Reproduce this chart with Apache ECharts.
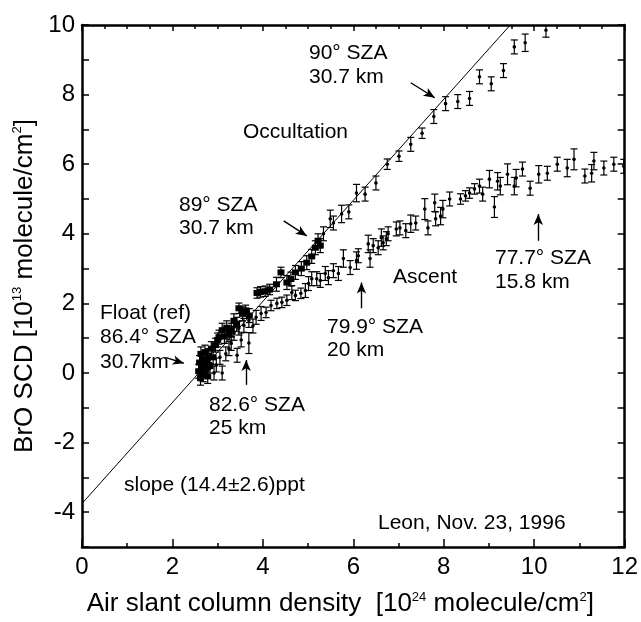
<!DOCTYPE html>
<html>
<head>
<meta charset="utf-8">
<script src="https://cdn.jsdelivr.net/npm/echarts@6/dist/echarts.min.js"></script>
<style>
  html, body { margin: 0; padding: 0; background: #fff; }
  #chart { width: 641px; height: 622px; }
</style>
</head>
<body>
<div id="chart"></div>
<script>
// occultation branch (float + sunset), x = air SCD [1e24], y = BrO SCD [1e13]
var occX = [2.58, 2.6, 2.62, 2.63, 2.65, 2.67, 2.68, 2.7, 2.72, 2.74, 2.76, 2.78, 2.8, 2.83, 2.86, 2.9, 2.95, 3.0, 3.03, 3.1,
  3.15, 3.2, 3.25, 3.3, 3.36, 3.42, 3.47, 3.55, 3.62, 3.7, 3.87, 3.95, 4.05, 4.15, 4.3, 4.4, 4.53, 4.62, 4.72, 4.85,
  4.97, 5.08, 5.16, 5.22, 5.27, 5.34, 5.49, 5.56, 5.74, 5.9, 6.07, 6.26, 6.5, 6.75, 7.01, 7.27, 7.52, 7.78, 8.04, 8.31,
  8.57, 8.79, 9.05, 9.32, 9.56, 9.8, 10.26];
var occY = [0.05, 0.3, -0.15, 0.55, 0.15, 0.4, -0.05, 0.25, 0.6, 0.1, 0.35, -0.1, 0.5, 0.2, 0.7, 0.45, 0.8, 0.95, 1.03, 1.23,
  1.05, 1.3, 1.15, 1.23, 1.5, 1.4, 1.86, 1.7, 1.8, 1.65, 2.3, 2.33, 2.35, 2.4, 2.55, 2.89, 2.6, 2.7, 2.89, 3.0,
  3.17, 3.35, 3.6, 3.8, 3.66, 4.0, 4.43, 4.31, 4.57, 4.63, 5.17, 5.14, 5.46, 6.0, 6.23, 6.57, 6.89, 7.37, 7.74, 7.8,
  7.89, 8.51, 8.31, 8.69, 9.37, 9.49, 9.85];
var occErr = [0.2, 0.2, 0.2, 0.2, 0.2, 0.2, 0.2, 0.2, 0.2, 0.2, 0.2, 0.2, 0.2, 0.2, 0.2, 0.2, 0.2, 0.2, 0.2, 0.2,
  0.2, 0.2, 0.2, 0.2, 0.2, 0.2, 0.15, 0.2, 0.15, 0.2, 0.15, 0.15, 0.15, 0.15, 0.2, 0.15, 0.2, 0.2, 0.2, 0.2,
  0.2, 0.2, 0.2, 0.2, 0.2, 0.2, 0.25, 0.2, 0.25, 0.2, 0.25, 0.2, 0.2, 0.15, 0.15, 0.2, 0.15, 0.2, 0.2, 0.2,
  0.2, 0.2, 0.2, 0.2, 0.2, 0.25, 0.2];

// balloon ascent branch
var ascX = [2.92, 2.97, 3.05, 3.1, 3.18, 3.25, 3.3, 3.36, 3.43, 3.47, 3.52, 3.58, 3.69, 3.69, 3.78, 3.85, 3.96, 4.07, 4.18, 4.31,
  4.42, 4.53, 4.64, 4.72, 4.84, 4.94, 5.01, 5.08, 5.19, 5.27, 5.38, 5.45, 5.56, 5.67, 5.78, 5.93, 6.07, 6.11, 6.33, 6.37,
  6.44, 6.55, 6.62, 6.66, 6.73, 6.77, 6.95, 7.03, 7.16, 7.27, 7.38, 7.58, 7.65, 7.8, 7.82, 7.93, 7.98, 8.13, 8.37, 8.48,
  8.57, 8.68, 8.79, 8.86, 9.01, 9.12, 9.19, 9.25, 9.41, 9.56, 9.6, 9.74, 9.91, 10.1, 10.29, 10.51, 10.73, 10.88, 11.12, 11.27,
  11.32, 11.54, 11.76, 11.98];
var ascY = [0.0, 0.23, 0.45, 0.0, 0.55, 0.7, 0.85, 1.14, 0.51, 1.29, 0.95, 1.37, 0.86, 1.51, 1.35, 1.6, 1.71, 1.74, 1.94, 2.0,
  2.03, 2.09, 2.31, 2.23, 2.29, 2.37, 2.57, 2.71, 2.71, 2.66, 2.86, 2.74, 2.94, 2.86, 3.29, 3.03, 3.23, 3.37, 3.71, 3.29,
  3.66, 3.6, 3.89, 3.74, 3.86, 4.0, 4.14, 4.17, 4.09, 4.29, 4.31, 4.71, 4.17, 4.89, 4.43, 4.51, 4.71, 5.0, 5.0, 5.09,
  5.17, 5.29, 5.37, 5.14, 5.57, 4.77, 5.51, 5.37, 5.71, 5.37, 5.6, 5.86, 5.31, 5.71, 5.74, 6.0, 5.89, 6.14, 5.66, 5.74,
  6.09, 5.89, 6.0, 5.94];
var ascErr = [0.2, 0.2, 0.2, 0.2, 0.2, 0.2, 0.2, 0.2, 0.2, 0.2, 0.2, 0.2, 0.3, 0.2, 0.2, 0.2, 0.2, 0.15, 0.15, 0.15,
  0.15, 0.15, 0.2, 0.15, 0.15, 0.2, 0.2, 0.2, 0.2, 0.2, 0.2, 0.2, 0.2, 0.2, 0.25, 0.2, 0.25, 0.2, 0.25, 0.25,
  0.2, 0.2, 0.25, 0.2, 0.2, 0.2, 0.2, 0.2, 0.2, 0.25, 0.2, 0.3, 0.2, 0.25, 0.2, 0.25, 0.25, 0.2, 0.15, 0.15,
  0.15, 0.15, 0.2, 0.2, 0.25, 0.3, 0.25, 0.25, 0.3, 0.25, 0.25, 0.2, 0.2, 0.25, 0.2, 0.2, 0.25, 0.3, 0.2, 0.25,
  0.25, 0.2, 0.2, 0.2];

// linear fit of the occultation branch
var fitIntercept = -3.75;
var fitSlope = 1.452;

var xTicks = [0, 2, 4, 6, 8, 10, 12];
var yTicks = [-4, -2, 0, 2, 4, 6, 8, 10];

var FONT = '"Liberation Sans", Arial, Helvetica, sans-serif';

function rows(xs, ys, es) {
  return xs.map(function (x, i) { return [x, ys[i], es[i]]; });
}

// error bar + dot, big square marks in the dense part of the occultation
function errItem(square) {
  return function (params, api) {
    var x = api.value(0), y = api.value(1), e = api.value(2);
    var hi = api.coord([x, y + e]);
    var lo = api.coord([x, y - e]);
    var c = api.coord([x, y]);
    var w = 3.5;
    var st = { stroke: '#000', lineWidth: 1.2 };
    var kids = [
      { type: 'line', shape: { x1: hi[0], y1: hi[1], x2: lo[0], y2: lo[1] }, style: st },
      { type: 'line', shape: { x1: hi[0] - w, y1: hi[1], x2: hi[0] + w, y2: hi[1] }, style: st },
      { type: 'line', shape: { x1: lo[0] - w, y1: lo[1], x2: lo[0] + w, y2: lo[1] }, style: st }
    ];
    if (square && x < 5.3) {
      kids.push({ type: 'rect', shape: { x: c[0] - 3.5, y: c[1] - 3, width: 7, height: 6 }, style: { fill: '#000' } });
    } else {
      kids.push({ type: 'circle', shape: { cx: c[0], cy: c[1], r: 1.8 }, style: { fill: '#000' } });
    }
    return { type: 'group', children: kids };
  };
}

function txt(s, x, y, size) {
  return {
    type: 'text', x: x, y: y, z: 10,
    style: { text: s, font: (size || 21) + 'px ' + FONT, fill: '#000', verticalAlign: 'middle' }
  };
}

function arrow(from, to) {
  return [{ coord: from }, { coord: to }];
}

var axisLine = { show: true, onZero: false, lineStyle: { color: '#000', width: 2.5 } };
var supRich = {
  sup: { fontSize: 13, fontFamily: FONT, color: '#000', verticalAlign: 'bottom', padding: [0, 0, 13, 0] }
};

var chart = echarts.init(document.getElementById('chart'));
var option = {
  animation: false,
  backgroundColor: '#fff',
  grid: { left: 82, right: 13, top: 25, bottom: 74 },
  xAxis: [{
    type: 'value', min: xTicks[0], max: xTicks[xTicks.length - 1], interval: 2,
    axisLine: axisLine,
    axisTick: { inside: true, length: 8, lineStyle: { color: '#000', width: 1.5 } },
    minorTick: { show: true, splitNumber: 2, length: 4, lineStyle: { color: '#000', width: 1.5 } },
    splitLine: { show: false },
    axisLabel: { fontSize: 24, fontFamily: FONT, color: '#000', margin: 8 },
    name: 'Air slant column density  [10{sup|24} molecule/cm{sup|2}]',
    nameLocation: 'middle', nameGap: 44,
    nameTextStyle: { fontSize: 26, fontFamily: FONT, color: '#000', padding: [0, 26, 0, 0], rich: supRich }
  }, {
    type: 'value', position: 'top', min: 0, max: 12, interval: 2,
    axisLine: axisLine,
    axisTick: { inside: true, length: 6, lineStyle: { color: '#000', width: 1.5 } },
    minorTick: { show: true, splitNumber: 4, length: 4, lineStyle: { color: '#000', width: 1.5 } },
    splitLine: { show: false },
    axisLabel: { show: false }
  }],
  yAxis: [{
    type: 'value', min: -5, max: 10, interval: 1,
    axisLine: axisLine,
    axisTick: { inside: true, length: 7, lineStyle: { color: '#000', width: 1.5 } },
    splitLine: { show: false },
    axisLabel: {
      fontSize: 24, fontFamily: FONT, color: '#000', margin: 7,
      formatter: function (v) { return yTicks.indexOf(v) >= 0 ? String(v) : ''; }
    },
    name: 'BrO SCD [10{sup|13} molecule/cm{sup|2}]',
    nameLocation: 'middle', nameGap: 35, nameRotate: 90,
    nameTextStyle: { fontSize: 26, fontFamily: FONT, color: '#000', rich: supRich }
  }, {
    type: 'value', position: 'right', min: -5, max: 10, interval: 1,
    axisLine: axisLine,
    axisTick: { inside: true, length: 7, lineStyle: { color: '#000', width: 1.5 } },
    splitLine: { show: false },
    axisLabel: { show: false }
  }],
  series: [{
    type: 'line',
    data: [[0, fitIntercept], [(yTicks[yTicks.length - 1] - fitIntercept) / fitSlope, yTicks[yTicks.length - 1]]],
    showSymbol: false,
    lineStyle: { color: '#000', width: 1 },
    z: 3,
    markLine: {
      silent: true, symbol: ['none', 'arrow'], symbolSize: [7, 11],
      lineStyle: { color: '#000', width: 1.4, type: 'solid' },
      label: { show: false },
      data: [
        arrow([7.27, 8.34], [7.8, 7.91]),
        arrow([4.46, 4.37], [4.97, 3.94]),
        arrow([1.86, 0.44], [2.25, 0.28]),
        arrow([3.63, -0.34], [3.63, 0.37]),
        arrow([6.18, 1.86], [6.18, 2.6]),
        arrow([10.09, 3.8], [10.09, 4.57])
      ]
    }
  }, {
    type: 'custom', name: 'Occultation',
    data: rows(occX, occY, occErr),
    encode: { x: 0, y: 1 },
    renderItem: errItem(true),
    clip: true, z: 4
  }, {
    type: 'custom', name: 'Ascent',
    data: rows(ascX, ascY, ascErr),
    encode: { x: 0, y: 1 },
    renderItem: errItem(false),
    clip: true, z: 4
  }],
  graphic: [
    txt('90° SZA', 309, 53),
    txt('30.7 km', 309, 77),
    txt('Occultation', 243, 132),
    txt('89° SZA', 179, 205),
    txt('30.7 km', 179, 228),
    txt('Float (ref)', 100, 313),
    txt('86.4° SZA', 100, 337),
    txt('30.7km', 100, 362),
    txt('82.6° SZA', 209, 405),
    txt('25 km', 209, 428),
    txt('slope (14.4±2.6)ppt', 124, 485),
    txt('Ascent', 393, 277),
    txt('79.9° SZA', 327, 327),
    txt('20 km', 327, 350),
    txt('77.7° SZA', 495, 258),
    txt('15.8 km', 495, 282),
    txt('Leon, Nov. 23, 1996', 378, 523)
  ]
};
chart.setOption(option);
</script>
</body>
</html>
